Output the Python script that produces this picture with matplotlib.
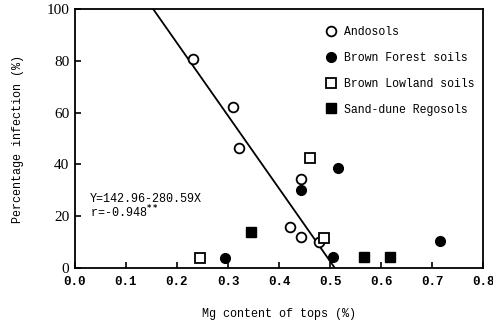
import matplotlib
matplotlib.use("Agg")
import matplotlib.pyplot as plt
import numpy as np

plt.rcParams['font.family'] = ['Liberation Mono', 'DejaVu Sans Mono']

ando_x = [0.231, 0.310, 0.322, 0.443, 0.422, 0.444, 0.478]
ando_y = [80.5, 62.0, 46.5, 34.5, 16.0, 12.0, 10.0]
bf_x = [0.443, 0.515, 0.295, 0.506, 0.716]
bf_y = [30.0, 38.5, 4.0, 4.2, 10.6]
bl_x = [0.245, 0.461, 0.489]
bl_y = [4.0, 42.5, 11.8]
sd_x = [0.346, 0.566, 0.617]
sd_y = [14.0, 4.2, 4.3]
intercept = 142.96
slope = -280.59
line_x = [0.153, 0.51]

xticks = [0.0, 0.1, 0.2, 0.3, 0.4, 0.5, 0.6, 0.7, 0.8]
yticks = [0, 20, 40, 60, 80, 100]

fig = plt.figure(figsize=(4.93, 3.29), dpi=100)
ax = fig.add_axes([0.152, 0.185, 0.828, 0.788])

lx = np.array(line_x)
ax.plot(lx, intercept + slope * lx, color='black', lw=1.3, zorder=1)

ms = 7
ax.plot(ando_x, ando_y, 'o', mfc='white', mec='black', mew=1.3, ms=ms, ls='none', label='Andosols', zorder=3)
ax.plot(bf_x, bf_y, 'o', mfc='black', mec='black', ms=ms, ls='none', label='Brown Forest soils', zorder=3)
ax.plot(bl_x, bl_y, 's', mfc='white', mec='black', mew=1.3, ms=ms, ls='none', label='Brown Lowland soils', zorder=3)
ax.plot(sd_x, sd_y, 's', mfc='black', mec='black', ms=ms, ls='none', label='Sand-dune Regosols', zorder=3)

ax.set_xlim(0.0, 0.8)
ax.set_ylim(0, 100)
ax.set_xticks(xticks)
ax.set_xticklabels([f"{t:.1f}" for t in xticks], fontsize=9, fontweight='bold')
ax.set_yticks(yticks)
ax.set_yticklabels([str(t) for t in yticks], fontsize=11, family='Liberation Serif')
ax.tick_params(direction='in', length=4, width=1.2, pad=6)
ax.tick_params(axis='y', pad=4)
for s in ax.spines.values():
    s.set_linewidth(1.3)

ax.set_xlabel('Mg content of tops (%)', fontsize=8.5, labelpad=14)
ax.set_ylabel('Percentage infection (%)', fontsize=8.5, labelpad=16)

ax.text(0.029, 26.5, 'Y=142.96-280.59X', fontsize=8.5, ha='left', va='center')
ax.text(0.029, 21.5, r'r=-0.948$^{\mathbf{**}}$', fontsize=8.5, ha='left', va='center')

ax.legend(loc='upper right', bbox_to_anchor=(1.0, 0.965), frameon=False, fontsize=8.3,
          handletextpad=0.7, labelspacing=1.2, handlelength=1.0, borderaxespad=0.3)

fig.savefig('out.png', dpi=100)
